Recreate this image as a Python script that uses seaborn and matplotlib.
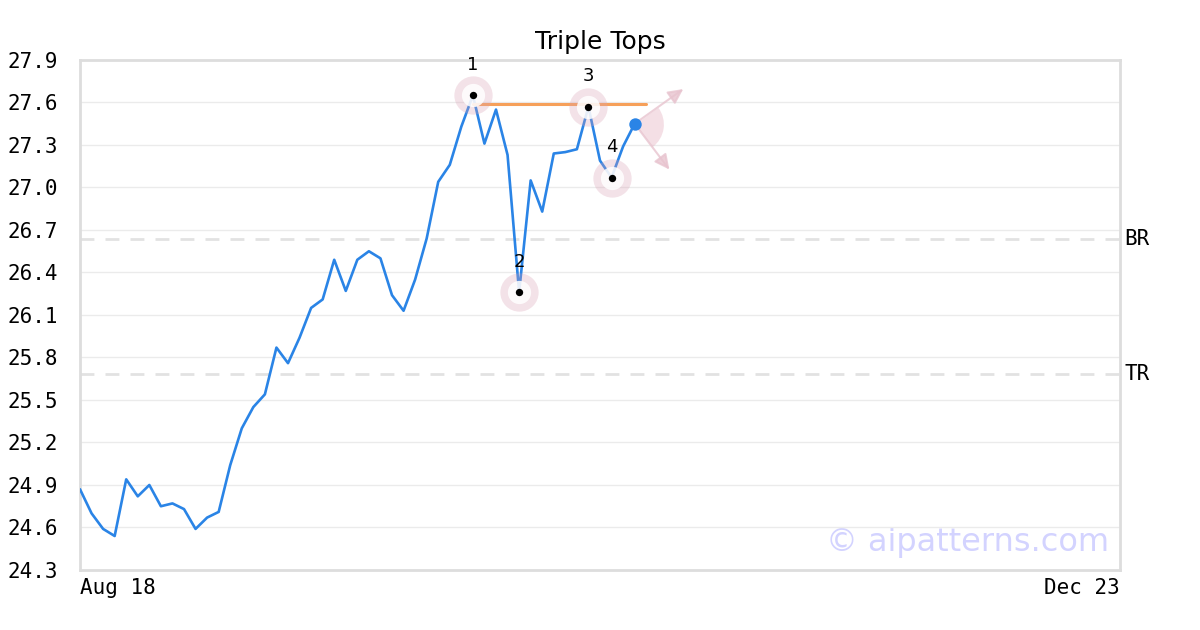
import numpy as np
import pandas as pd
import seaborn as sns
import matplotlib.pyplot as plt
from matplotlib.path import Path

# Data
close = [24.87, 24.70, 24.59, 24.54, 24.94, 24.82, 24.90, 24.75, 24.77, 24.73,
         24.59, 24.67, 24.71, 25.04, 25.30, 25.45, 25.54, 25.87, 25.76, 25.94,
         26.15, 26.21, 26.49, 26.27, 26.49, 26.55, 26.50, 26.24, 26.13, 26.35,
         26.64, 27.04, 27.16, 27.43, 27.65, 27.31, 27.55, 27.23, 26.26, 27.05,
         26.83, 27.24, 27.25, 27.27, 27.57, 27.19, 27.07, 27.29, 27.45]
n_slots = 91                      # trading days shown on the axis
x_tick_pos = [0, 90]
x_tick_labels = ['Aug 18', 'Dec 23']
y_ticks = [24.3, 24.6, 24.9, 25.2, 25.5, 25.8, 26.1, 26.4, 26.7, 27.0, 27.3, 27.6, 27.9]

pattern_idx = [34, 38, 44, 46]
pattern_labels = ['1', '2', '3', '4']
resistance_level = 27.59
resistance_span = [34, 49]
levels = {'BR': 26.635, 'TR': 25.68}

df = pd.DataFrame({'day': np.arange(len(close)), 'close': close})

sns.set_style('whitegrid')
plt.rcParams['text.color'] = 'black'
plt.rcParams['xtick.color'] = 'black'
plt.rcParams['ytick.color'] = 'black'

fig = plt.figure(figsize=(12, 6.3), dpi=100)
ax = fig.add_axes([80 / 1200, 60 / 630, 1040 / 1200, 510 / 630])

BLUE = '#2a84e6'
PINK = '#e8c4cf'

# horizontal levels
for name, val in levels.items():
    ax.axhline(val, color='#e2e2e2', lw=2, ls=(0, (5, 4)), zorder=1)
    ax.text(1.004, val, name, transform=ax.get_yaxis_transform(), ha='left', va='center',
            fontsize=15, family='DejaVu Sans Mono', color='black')

# price line
sns.lineplot(data=df, x='day', y='close', color=BLUE, lw=1.9, ax=ax, zorder=3)

# resistance line across the tops
ax.plot(resistance_span, [resistance_level] * 2, color='#f6a05a', lw=2.2, zorder=4)

# pattern point markers
px = [df['day'][i] for i in pattern_idx]
py = [df['close'][i] for i in pattern_idx]
ax.scatter(px, py, s=760, color='#d9a0b4', alpha=0.3, lw=0, zorder=5)
ax.scatter(px, py, s=280, color='white', alpha=0.85, lw=0, zorder=6)
ax.scatter(px, py, s=28, color='black', lw=0, zorder=7)
for x, y, lab in zip(px, py, pattern_labels):
    ax.annotate(lab, (x, y), xytext=(0, 22), textcoords='offset points',
                ha='center', va='center', fontsize=13, color='black', zorder=8)

# last point and direction fan
lx, ly = df['day'].iloc[-1], df['close'].iloc[-1]
wedge = Path.wedge(-53, 36)
ax.scatter([lx], [ly], s=42 ** 2, marker=wedge, color='#e8b8c6', alpha=0.45, lw=0, zorder=2)
for dx, dy in [(35, 25), (25, -33)]:
    ax.annotate('', xy=(lx, ly), xytext=(dx, dy), textcoords='offset points',
                arrowprops=dict(arrowstyle='<|-,head_length=0.9,head_width=0.45',
                                color=PINK, alpha=0.8, lw=1.5, shrinkA=0, shrinkB=0), zorder=2)
ax.scatter([lx], [ly], s=80, color=BLUE, lw=0, zorder=8)

# axes styling
ax.set_xlim(0, n_slots - 1)
ax.set_ylim(y_ticks[0], y_ticks[-1])
ax.set_yticks(y_ticks)
ax.set_yticklabels([f'{v:.1f}' for v in y_ticks])
ax.set_xticks(x_tick_pos)
ax.set_xticklabels(x_tick_labels)
for lab, ha in zip(ax.get_xticklabels(), ['left', 'right']):
    lab.set_ha(ha)
for lab in ax.get_xticklabels() + ax.get_yticklabels():
    lab.set_family('DejaVu Sans Mono')
    lab.set_fontsize(15)
    lab.set_color('black')
ax.tick_params(axis='y', length=0, pad=16)
ax.tick_params(axis='x', length=0, pad=6)
ax.grid(axis='x', visible=False)
ax.grid(axis='y', color='#ebebeb', lw=1)
for sp in ax.spines.values():
    sp.set_color('#dddddd')
    sp.set_linewidth(2)
ax.set_xlabel('')
ax.set_ylabel('')
ax.set_title('Triple Tops', fontsize=18, pad=8, color='black')

ax.text(0.990, 0.053, '© aipatterns.com', transform=ax.transAxes, ha='right', va='center',
        fontsize=23, color='#c8c8ff', alpha=0.8, zorder=0)

fig.savefig('out.png', dpi=100)
